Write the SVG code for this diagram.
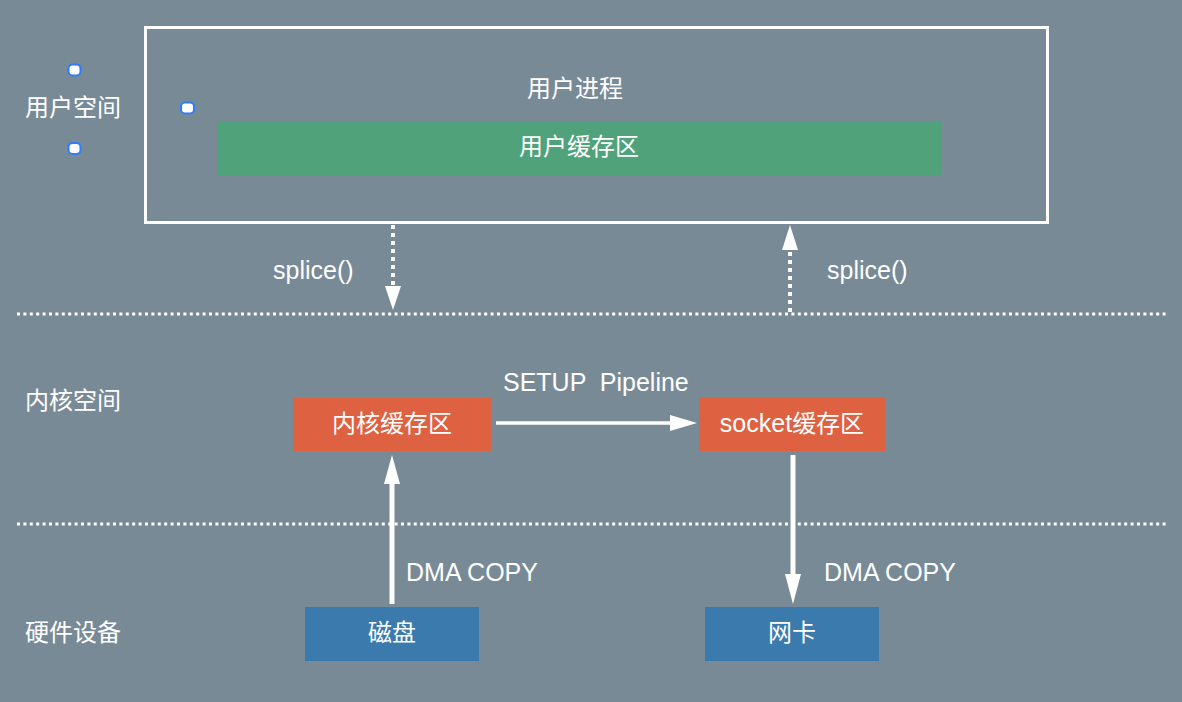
<svg xmlns="http://www.w3.org/2000/svg" width="1182" height="702" viewBox="0 0 1182 702">
<defs>
<style>
.t{font-family:"Liberation Sans","Noto Sans CJK SC",sans-serif;font-size:24px;fill:#fff;dominant-baseline:central}
.l{font-size:25px}
.c{text-anchor:middle}
.dot{stroke:#fff;stroke-width:3;stroke-dasharray:3 3.4;fill:none}
.ln{stroke:#fff;stroke-width:5;fill:none}
.vd{stroke:#fff;stroke-width:4;stroke-dasharray:4 4;fill:none}
.h{fill:#fff;stroke:#2f7cf6;stroke-width:2}
</style>
</defs>
<rect width="1182" height="702" fill="#798a97"/>
<g id="lanes">
<line class="dot" x1="17" y1="314" x2="1166" y2="314"/>
<line class="dot" x1="17" y1="524" x2="1166" y2="524"/>
<text class="t" x="25" y="107">用户空间</text>
<text class="t" x="25" y="400">内核空间</text>
<text class="t" x="25" y="632">硬件设备</text>
</g>
<g id="handles">
<rect class="h" x="68.5" y="64.5" width="12" height="11" rx="4"/>
<rect class="h" x="181" y="102.5" width="13" height="11" rx="4"/>
<rect class="h" x="68.5" y="143" width="12" height="11" rx="4"/>
</g>
<g id="user-process">
<rect x="145.5" y="27.5" width="902" height="195" fill="none" stroke="#fff" stroke-width="3"/>
<text class="t c" x="575" y="88">用户进程</text>
</g>
<g id="user-buffer">
<rect x="217" y="121" width="725" height="54" fill="#50a27a"/>
<text class="t c" x="579" y="146">用户缓存区</text>
</g>
<g id="kernel-buffer">
<rect x="293" y="398" width="198" height="53" fill="#de6142"/>
<text class="t c" x="392" y="423">内核缓存区</text>
</g>
<g id="socket-buffer">
<rect x="699" y="397" width="186" height="54" fill="#de6142"/>
<text class="t c" x="792" y="423"><tspan class="l">socket</tspan>缓存区</text>
</g>
<g id="disk">
<rect x="305" y="607" width="174" height="54" fill="#3a7aad"/>
<text class="t c" x="392" y="632">磁盘</text>
</g>
<g id="nic">
<rect x="705" y="607" width="174" height="54" fill="#3a7aad"/>
<text class="t c" x="792" y="632">网卡</text>
</g>
<g id="connectors">
<line class="vd" x1="393" y1="225" x2="393" y2="288"/>
<polygon points="385,286 401,286 393,310" fill="#fff"/>
<text class="t l" x="273" y="270">splice()</text>
<line class="vd" x1="790" y1="312" x2="790" y2="250"/>
<polygon points="782,250 798,250 790,225" fill="#fff"/>
<text class="t l" x="827" y="270">splice()</text>
<line class="ln" x1="496" y1="423" x2="672" y2="423" style="stroke-width:3.5"/>
<polygon points="670,415 670,431 697,423" fill="#fff"/>
<text class="t l" x="503" y="382" xml:space="preserve">SETUP  Pipeline</text>
<line class="ln" x1="392" y1="604" x2="392" y2="480"/>
<polygon points="384,484 400,484 392,455" fill="#fff"/>
<text class="t l" x="406" y="572">DMA COPY</text>
<line class="ln" x1="793" y1="455" x2="793" y2="578"/>
<polygon points="785,574 801,574 793,604" fill="#fff"/>
<text class="t l" x="824" y="572">DMA COPY</text>
</g>
</svg>
